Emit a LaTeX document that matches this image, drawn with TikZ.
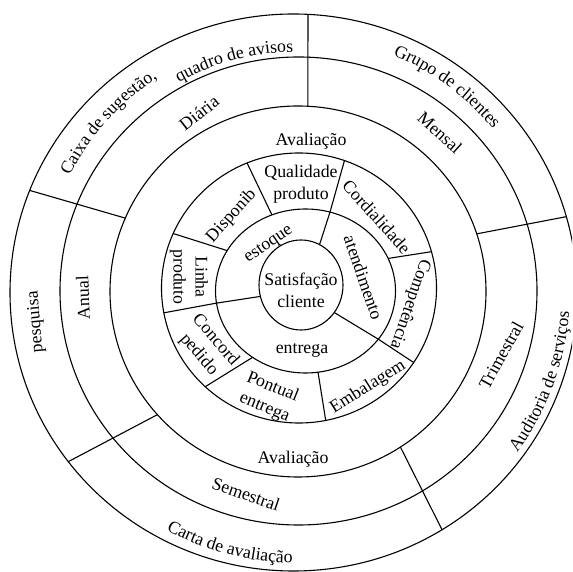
\documentclass[tikz,border=0pt]{standalone}
\usepackage{fontspec}
\setmainfont{Liberation Serif}
\usetikzlibrary{decorations.text}
\newcommand\lbl{\fontsize{17.8pt}{22pt}\selectfont}
\begin{document}
\begin{tikzpicture}[x=1pt,y=1pt,
  ring/.style={line width=1.1pt, draw=black},
  lab/.style={font=\lbl, inner sep=0pt, align=center},
  arclab/.style={decorate, decoration={text along path, text align=center, text={|\lbl|#1}}}
]
\useasboundingbox (0,0) rectangle (572,572);
\fill[white] (0,0) rectangle (572,572);
\clip (0,0) rectangle (572,572);

% ring centres
\coordinate (c1) at (301,287);
\coordinate (c2) at (305.5,281);
\coordinate (c3) at (299,284);
\coordinate (c4) at (298,280.5);
\coordinate (c5) at (298.5,281);
\coordinate (c6) at (293.5,279.5);
\coordinate (O) at (296,281);

% rings
\draw[ring] (c1) ellipse [x radius=42pt, y radius=45pt];
\draw[ring] (c2) ellipse [x radius=90pt, y radius=82pt];
\draw[ring] (c3) ellipse [x radius=137.5pt, y radius=135pt];
\draw[ring] (c4) ellipse [x radius=188pt, y radius=185.5pt];
\draw[ring] (c5) ellipse [x radius=238.5pt, y radius=234pt];
\draw[ring] (c6) ellipse [x radius=283.5pt, y radius=278.5pt];

% dividers of the two inner rings
\coordinate (ea1) at ([shift={(c1)}]63.8:42pt and 45pt);
\coordinate (ea2) at ([shift={(c2)}]74.2:90pt and 82pt);
\coordinate (ea3) at ([shift={(c3)}]70.7:137.5pt and 135pt);
\coordinate (ae1) at ([shift={(c1)}]-37.7:42pt and 45pt);
\coordinate (ae2) at ([shift={(c2)}]-36:90pt and 82pt);
\coordinate (ae3) at ([shift={(c3)}]-33.5:137.5pt and 135pt);
\coordinate (ee1) at ([shift={(c1)}]194.7:42pt and 45pt);
\coordinate (ee2) at ([shift={(c2)}]188.5:90pt and 82pt);
\coordinate (ee3) at ([shift={(c3)}]190.6:137.5pt and 135pt);
\coordinate (dq2) at ([shift={(c2)}]111.9:90pt and 82pt);
\coordinate (dq3) at ([shift={(c3)}]112.2:137.5pt and 135pt);
\coordinate (cc2) at ([shift={(c2)}]23.4:90pt and 82pt);
\coordinate (cc3) at ([shift={(c3)}]15.6:137.5pt and 135pt);
\coordinate (ep2) at ([shift={(c2)}]-82:90pt and 82pt);
\coordinate (ep3) at ([shift={(c3)}]-78.8:137.5pt and 135pt);
\coordinate (pc2) at ([shift={(c2)}]234:90pt and 82pt);
\coordinate (pc3) at ([shift={(c3)}]227:137.5pt and 135pt);
\coordinate (ld2) at ([shift={(c2)}]150.5:90pt and 82pt);
\coordinate (ld3) at ([shift={(c3)}]156.2:137.5pt and 135pt);
\draw[ring] (ea1) -- (ea2) -- (ea3);
\draw[ring] (ae1) -- (ae2) -- (ae3);
\draw[ring] (ee1) -- (ee2) -- (ee3);
\draw[ring] (dq2) -- (dq3);
\draw[ring] (cc2) -- (cc3);
\draw[ring] (ep2) -- (ep3);
\draw[ring] (pc2) -- (pc3);
\draw[ring] (ld2) -- (ld3);

% dividers of the two outer rings
\coordinate (A4) at ([shift={(c4)}]87:188pt and 185.5pt);
\coordinate (A6) at ([shift={(c6)}]87.07:283.5pt and 278.5pt);
\coordinate (B4) at ([shift={(c4)}]18.1:188pt and 185.5pt);
\coordinate (B6) at ([shift={(c6)}]15.8:283.5pt and 278.5pt);
\coordinate (C4) at ([shift={(c4)}]-57:188pt and 185.5pt);
\coordinate (C6) at ([shift={(c6)}]-58.4:283.5pt and 278.5pt);
\coordinate (D4) at ([shift={(c4)}]221.6:188pt and 185.5pt);
\coordinate (D6) at ([shift={(c6)}]217.4:283.5pt and 278.5pt);
\coordinate (E4) at ([shift={(c4)}]156.7:188pt and 185.5pt);
\coordinate (E6) at ([shift={(c6)}]158.5:283.5pt and 278.5pt);
\draw[ring] (A4) -- (A6);
\draw[ring] (B4) -- (B6);
\draw[ring] (C4) -- (C6);
\draw[ring] (D4) -- (D6);
\draw[ring] (E4) -- (E6);

% centre and inner rings
\node[lab] (sat) at (301,282) {Satisfação\\cliente};
\node[lab, rotate=34] (estoque) at (269,327) {estoque};
\node[lab, rotate=-71] (atend) at (363.5,294.5) {atendimento};
\node[lab] (entr) at (302,222) {entrega};
\node[lab] (qual) at (301,388) {Qualidade\\produto};
\node[lab, rotate=-48] (cord) at (376.7,355.3) {Cordialidade};
\node[lab, rotate=-109] (comp) at (410,268) {Competência};
\node[lab, rotate=32] (emb) at (368,185) {Embalagem};
\node[lab, rotate=-22] (pont) at (268.5,174.5) {Pontual\\entrega};
\node[lab, rotate=-49] (conc) at (207,224.5) {Concord\\pedido};
\node[lab, rotate=-90] (linha) at (189,295) {Linha\\produto};
\node[lab, rotate=48] (disp) at (231.5,356) {Disponib};

% evaluation ring
\node[lab] (av1) at (311,431) {Avaliação};
\node[lab] (av2) at (293,113) {Avaliação};

% frequency ring
\node[lab, rotate=38] (dia) at (199,459) {Diária};
\node[lab, rotate=-42] (mens) at (440,439) {Mensal};
\node[lab, rotate=61] (trim) at (501,217) {Trimestral};
\node[lab, rotate=-19] (sem) at (246,78) {Semestral};
\node[lab, rotate=92] (anual) at (83,274) {Anual};

% instrument ring
\node[lab, rotate=95] (pesq) at (36,250) {pesquisa};
\path[arclab={Caixa de sugestão,}] ([shift={(O)}]168:254pt) arc[start angle=168, end angle=108, radius=254pt];
\path[arclab={quadro de avisos}] ([shift={(O)}]135:239pt) arc[start angle=135, end angle=75, radius=239pt];
\path[arclab={Grupo de clientes}] ([shift={(O)}]83.5:255pt) arc[start angle=83.5, end angle=23.5, radius=255pt];
\path[arclab={Auditoria de serviços}] ([shift={(O)}]-50.25:274pt) arc[start angle=-50.25, end angle=9.75, radius=274pt];
\path[arclab={Carta de avaliação}] ([shift={(O)}]225.4:272pt) arc[start angle=225.4, end angle=285.4, radius=272pt];
\end{tikzpicture}
\end{document}
